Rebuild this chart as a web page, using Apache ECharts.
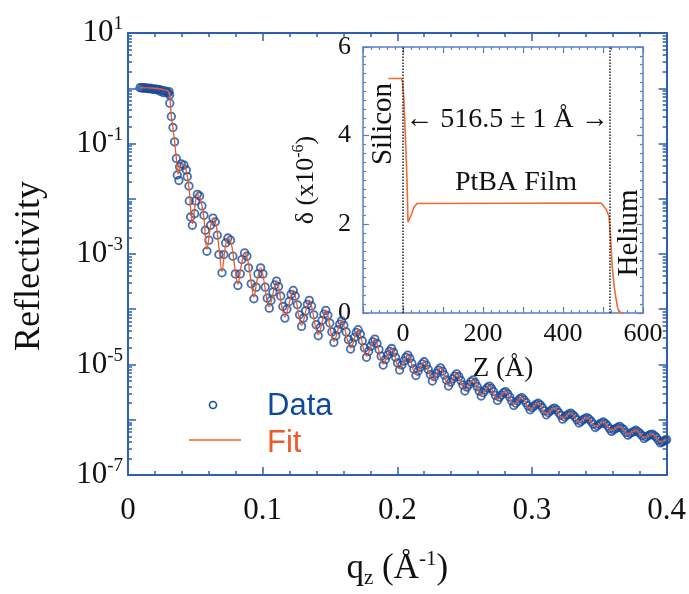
<!DOCTYPE html>
<html>
<head>
<meta charset="utf-8">
<title>Reflectivity</title>
<script src="https://cdn.jsdelivr.net/npm/echarts@6/dist/echarts.min.js"></script>
<style>
	html, body { margin: 0; padding: 0; background: #fff; }
	#main { width: 689px; height: 594px; }
</style>
</head>
<body>
<div id="main"></div>
<script>
// measured reflectivity, [qz (1/A), log10 R]
var dataLog = [
	[0.0089,0.01],[0.0100,0.01],[0.0111,0.0],[0.0122,0.01],[0.0133,0.0],[0.0144,0.0],[0.0155,-0.01],
	[0.0166,0.0],[0.0177,-0.01],[0.0188,-0.02],[0.0199,-0.01],[0.0210,-0.02],[0.0221,-0.03],[0.0232,-0.02],
	[0.0243,-0.06],[0.0254,-0.04],[0.0265,-0.08],[0.0276,-0.05],[0.0287,-0.07],[0.0298,-0.09],[0.0305,-0.06],
	[0.0309,-0.12],[0.0310,-0.27],[0.0322,-0.51],[0.0334,-0.71],[0.0346,-0.97],[0.0359,-1.27],
	[0.0366,-1.57],[0.0378,-1.67],[0.0383,-1.42],[0.0396,-1.37],[0.0416,-1.39],[0.0433,-1.48],[0.0440,-1.60],
	[0.0453,-1.77],[0.0455,-2.04],[0.0465,-2.33],[0.0478,-2.48],[0.0495,-2.27],[0.0502,-2.04],[0.0515,-1.92],
	[0.0532,-1.95],[0.0549,-2.13],[0.0564,-2.30],[0.0574,-2.57],[0.0586,-2.95],[0.0601,-2.75],[0.0613,-2.48],
	[0.0631,-2.35],[0.0648,-2.42],[0.0663,-2.66],[0.0675,-3.01],[0.0698,-3.34],[0.0712,-3.01],[0.0725,-2.80],
	[0.0742,-2.71],[0.0762,-2.75],[0.0779,-3.04],[0.0797,-3.36],[0.0816,-3.57],[0.0834,-3.36],[0.0846,-3.10],
	[0.0866,-2.98],[0.0883,-3.04],[0.0895,-3.25],[0.0915,-3.54],[0.0935,-3.81],[0.0952,-3.60],[0.0965,-3.36],
	[0.0985,-3.25],[0.1002,-3.36],[0.1019,-3.60],[0.1034,-3.80],
	[0.1049,-3.98],[0.1062,-3.84],[0.1076,-3.69],[0.1090,-3.56],[0.1103,-3.49],[0.1118,-3.59],[0.1134,-3.76],
	[0.1150,-3.95],[0.1165,-4.16],[0.1180,-4.00],[0.1196,-3.86],[0.1211,-3.73],[0.1227,-3.66],[0.1242,-3.76],
	[0.1258,-3.92],[0.1274,-4.10],[0.1289,-4.31],[0.1303,-4.16],[0.1318,-4.03],[0.1332,-3.91],[0.1346,-3.84],
	[0.1363,-3.94],[0.1380,-4.10],[0.1397,-4.28],[0.1413,-4.48],[0.1427,-4.33],[0.1441,-4.20],[0.1455,-4.09],
	[0.1469,-4.02],[0.1484,-4.11],[0.1499,-4.25],[0.1514,-4.41],[0.1529,-4.60],[0.1543,-4.48],[0.1558,-4.37],
	[0.1572,-4.27],[0.1586,-4.21],[0.1603,-4.29],[0.1620,-4.41],[0.1637,-4.55],[0.1653,-4.72],[0.1667,-4.61],
	[0.1681,-4.51],[0.1695,-4.42],[0.1709,-4.37],[0.1725,-4.45],[0.1740,-4.57],[0.1756,-4.70],[0.1771,-4.87],
	[0.1787,-4.76],[0.1802,-4.67],[0.1818,-4.59],[0.1833,-4.54],[0.1849,-4.62],[0.1864,-4.73],[0.1880,-4.85],
	[0.1895,-5.01],[0.1911,-4.91],[0.1926,-4.83],[0.1942,-4.76],[0.1957,-4.71],[0.1972,-4.78],[0.1987,-4.87],
	[0.2002,-4.97],[0.2017,-5.10],[0.2033,-5.01],[0.2048,-4.94],[0.2063,-4.87],[0.2078,-4.83],[0.2093,-4.89],
	[0.2108,-4.98],[0.2123,-5.08],[0.2138,-5.20],[0.2154,-5.12],[0.2169,-5.05],[0.2184,-4.99],[0.2199,-4.95],
	[0.2215,-5.01],[0.2230,-5.09],[0.2245,-5.18],[0.2260,-5.30],[0.2275,-5.22],[0.2290,-5.16],[0.2305,-5.10],
	[0.2320,-5.06],[0.2335,-5.12],[0.2350,-5.19],[0.2365,-5.28],[0.2380,-5.39],[0.2396,-5.32],[0.2411,-5.26],
	[0.2426,-5.21],[0.2441,-5.17],[0.2457,-5.22],[0.2472,-5.29],[0.2487,-5.37],[0.2502,-5.48],[0.2517,-5.41],
	[0.2532,-5.36],[0.2547,-5.31],[0.2562,-5.28],[0.2578,-5.33],[0.2593,-5.40],[0.2608,-5.48],[0.2623,-5.57],
	[0.2638,-5.51],[0.2653,-5.46],[0.2668,-5.42],[0.2683,-5.39],[0.2699,-5.43],[0.2714,-5.49],[0.2729,-5.56],
	[0.2744,-5.65],[0.2759,-5.59],[0.2774,-5.55],[0.2789,-5.51],[0.2804,-5.49],[0.2820,-5.53],[0.2835,-5.59],
	[0.2850,-5.66],[0.2865,-5.74],[0.2880,-5.70],[0.2895,-5.66],[0.2910,-5.62],[0.2925,-5.60],[0.2941,-5.64],
	[0.2956,-5.69],[0.2971,-5.75],[0.2986,-5.82],[0.3001,-5.78],[0.3016,-5.75],[0.3031,-5.72],[0.3046,-5.70],
	[0.3062,-5.73],[0.3077,-5.78],[0.3092,-5.84],[0.3107,-5.91],[0.3122,-5.87],[0.3137,-5.84],[0.3152,-5.81],
	[0.3167,-5.79],[0.3183,-5.82],[0.3198,-5.87],[0.3213,-5.92],[0.3228,-5.99],[0.3243,-5.95],[0.3258,-5.92],
	[0.3273,-5.90],[0.3288,-5.88],[0.3304,-5.91],[0.3319,-5.95],[0.3334,-6.00],[0.3349,-6.06],[0.3364,-6.03],
	[0.3379,-6.00],[0.3394,-5.98],[0.3409,-5.96],[0.3425,-5.99],[0.3440,-6.03],[0.3455,-6.08],[0.3470,-6.14],
	[0.3485,-6.11],[0.3500,-6.08],[0.3515,-6.06],[0.3530,-6.04],[0.3546,-6.07],[0.3561,-6.11],[0.3576,-6.16],
	[0.3591,-6.21],[0.3606,-6.18],[0.3621,-6.16],[0.3636,-6.14],[0.3651,-6.12],[0.3667,-6.15],[0.3682,-6.18],
	[0.3697,-6.23],[0.3712,-6.28],[0.3727,-6.25],[0.3742,-6.23],[0.3757,-6.21],[0.3772,-6.19],[0.3788,-6.22],
	[0.3803,-6.25],[0.3818,-6.29],[0.3833,-6.34],[0.3848,-6.31],[0.3863,-6.29],[0.3878,-6.27],[0.3893,-6.26],
	[0.3909,-6.29],[0.3924,-6.32],[0.3939,-6.37],[0.3954,-6.42],[0.3966,-6.40],[0.3977,-6.39],[0.3989,-6.37],
	[0.4000,-6.36]
];

// model fit, [qz, log10 R]
var fitLog = [
	[0.0089,0.01],[0.0200,0.0],[0.0290,-0.04],[0.0305,-0.08],[0.0312,-0.2],[0.0322,-0.51],[0.0334,-0.72],
	[0.0346,-0.97],[0.0359,-1.27],[0.0372,-1.55],[0.0385,-1.42],[0.0408,-1.37],[0.0433,-1.50],[0.0455,-1.85],
	[0.0478,-2.45],[0.0498,-2.12],[0.0515,-1.92],[0.0540,-2.02],[0.0565,-2.38],[0.0586,-2.92],[0.0608,-2.58],
	[0.0631,-2.35],[0.0655,-2.48],[0.0678,-2.95],[0.0698,-3.32],[0.0720,-2.92],[0.0742,-2.71],[0.0768,-2.82],
	[0.0795,-3.28],[0.0816,-3.55],[0.0840,-3.22],[0.0866,-2.98],[0.0890,-3.12],[0.0915,-3.52],[0.0935,-3.78],
	[0.0958,-3.48],[0.0985,-3.25],[0.1049,-3.96],[0.1103,-3.49],[0.1165,-4.14],[0.1227,-3.66],[0.1289,-4.29],
	[0.1346,-3.84],[0.1413,-4.46],[0.1469,-4.02],[0.1529,-4.58],[0.1586,-4.21],[0.1653,-4.70],[0.1709,-4.37],
	[0.1771,-4.85],[0.1833,-4.54],[0.1895,-4.99],[0.1957,-4.71],[0.2017,-5.08],[0.2078,-4.83],[0.2138,-5.18],
	[0.2199,-4.95],[0.2260,-5.28],[0.2320,-5.06],[0.2380,-5.37],[0.2441,-5.17],[0.2502,-5.46],[0.2562,-5.28],
	[0.2623,-5.55],[0.2683,-5.39],[0.2744,-5.63],[0.2804,-5.49],[0.2865,-5.72],[0.2925,-5.60],[0.2986,-5.80],
	[0.3046,-5.70],[0.3107,-5.89],[0.3167,-5.79],[0.3228,-5.97],[0.3288,-5.88],[0.3349,-6.04],[0.3409,-5.96],
	[0.3470,-6.12],[0.3530,-6.04],[0.3591,-6.19],[0.3651,-6.12],[0.3712,-6.26],[0.3772,-6.19],[0.3833,-6.32],
	[0.3893,-6.26],[0.3954,-6.40],[0.4000,-6.36]
];

// inset: delta profile, [z (A), delta x1e-6]
var profile = [
	[-37,5.29],[-4,5.29],[-1,5.2],[1.5,4.92],[4,4.4],[7,3.75],[10,3.0],[12.5,2.05],[15,2.05],[20,2.2],
	[27,2.38],[35,2.47],[40,2.48],[495,2.48],[500,2.44],[508,2.34],[515,2.18],[518.3,1.8],[523,1.05],
	[529,0.52],[535.8,0.15],[540,0.02],[545,0],[552,0]
];
var interfaces = [0, 516.5];

var yLabelExp = [1, -1, -3, -5, -7];
var insetXLabels = [0, 200, 400, 600];

var AX = '#2f5fae';
var INSET_AX = '#5a7ec2';
var BLUE = '#174a9c';
var ORANGE = '#f05a28';
var serif = 'Liberation Serif';

var majorY = [], minorY = [];
for (var e = -7; e <= 1; e++) majorY.push(Math.pow(10, e));
for (var e = -7; e < 1; e++) {
	for (var m = 2; m <= 9; m++) minorY.push(m * Math.pow(10, e));
}

function toR(p) { return [p[0], Math.pow(10, p[1])]; }

function logAxis(pos, ticks, len, withLabels, showLine) {
	var ax = {
		type: 'log', logBase: 10, min: 1e-7, max: 10, gridIndex: 0, position: pos,
		axisLine: { show: showLine, onZero: false, lineStyle: { color: AX, width: 2 } },
		axisTick: { inside: true, length: len, customValues: ticks, lineStyle: { color: AX, width: 1.5 } },
		axisLabel: { show: false },
		splitLine: { show: false }
	};
	if (withLabels) {
		ax.axisLabel = {
			customValues: yLabelExp.map(function (v) { return Math.pow(10, v); }),
			margin: 5,
			formatter: function (v) {
				return '{b|10}{s|' + Math.round(Math.log10(v)) + '}';
			},
			rich: {
				b: { fontFamily: serif, fontSize: 31, color: '#111', lineHeight: 36 },
				s: { fontFamily: serif, fontSize: 19, color: '#111', verticalAlign: 'top', lineHeight: 20 }
			}
		};
	}
	return ax;
}

function qAxis(pos, withLabels) {
	var ax = {
		type: 'value', gridIndex: 0, min: 0, max: 0.4, interval: 0.1, position: pos,
		axisLine: { onZero: false, lineStyle: { color: AX, width: 2 } },
		axisTick: { inside: true, length: 8, lineStyle: { color: AX, width: 1.5 } },
		minorTick: { show: true, splitNumber: 5, length: 4, lineStyle: { color: AX, width: 1.5 } },
		splitLine: { show: false },
		minorSplitLine: { show: false },
		axisLabel: { show: false }
	};
	if (withLabels) {
		ax.axisLabel = {
			color: '#111', fontFamily: serif, fontSize: 31, margin: 20,
			formatter: function (v) { return String(Math.round(v * 10) / 10); }
		};
		ax.name = '{q|q}{z|z}{q| (Å}{s|-1}{q|)}';
		ax.nameLocation = 'middle';
		ax.nameGap = 74;
		ax.nameTextStyle = {
			rich: {
				q: { fontFamily: serif, fontSize: 35, color: '#111', lineHeight: 40 },
				z: { fontFamily: serif, fontSize: 21, color: '#111', verticalAlign: 'bottom', lineHeight: 22 },
				s: { fontFamily: serif, fontSize: 21, color: '#111', verticalAlign: 'top', lineHeight: 22 }
			}
		};
	}
	return ax;
}

function zAxis(pos, withLabels) {
	var ax = {
		type: 'value', gridIndex: 1, min: -100, max: 600, interval: 100, position: pos,
		axisLine: { onZero: false, lineStyle: { color: INSET_AX, width: 1.5 } },
		axisTick: { inside: true, length: 6, lineStyle: { color: INSET_AX, width: 1.2 } },
		minorTick: { show: true, splitNumber: 5, length: 3, lineStyle: { color: INSET_AX, width: 1.2 } },
		splitLine: { show: false },
		minorSplitLine: { show: false },
		axisLabel: { show: false }
	};
	if (withLabels) {
		ax.axisLabel = {
			color: '#111', fontFamily: serif, fontSize: 26, margin: 8,
			formatter: function (v) { return insetXLabels.indexOf(v) >= 0 ? String(v) : ''; }
		};
		ax.name = 'Z (Å)';
		ax.nameLocation = 'middle';
		ax.nameGap = 42;
		ax.nameTextStyle = { fontFamily: serif, fontSize: 27, color: '#111' };
	}
	return ax;
}

function dAxis(pos, withLabels) {
	var ax = {
		type: 'value', gridIndex: 1, min: 0, max: 6, interval: 2, position: pos,
		axisLine: { onZero: false, lineStyle: { color: INSET_AX, width: 1.5 } },
		axisTick: { inside: true, length: 6, lineStyle: { color: INSET_AX, width: 1.2 } },
		minorTick: { show: true, splitNumber: 10, length: 3, lineStyle: { color: INSET_AX, width: 1.2 } },
		splitLine: { show: false },
		minorSplitLine: { show: false },
		axisLabel: { show: false }
	};
	if (withLabels) {
		ax.axisLabel = { color: '#111', fontFamily: serif, fontSize: 26, margin: 12 };
		ax.name = '{d|δ (x10}{s|-6}{d|)}';
		ax.nameLocation = 'middle';
		ax.nameRotate = 90;
		ax.nameGap = 42;
		ax.nameTextStyle = {
			rich: {
				d: { fontFamily: serif, fontSize: 26, color: '#111', lineHeight: 30 },
				s: { fontFamily: serif, fontSize: 16, color: '#111', verticalAlign: 'top', lineHeight: 16 }
			}
		};
	}
	return ax;
}

var myChart = echarts.init(document.getElementById('main'));

var option = {
	backgroundColor: '#fff',
	animation: false,
	grid: [
		{ left: 128, right: 22, top: 33, bottom: 108 },
		{ left: 363, top: 47, width: 280, height: 266, show: true, backgroundColor: '#fff', borderWidth: 0 }
	],
	xAxis: [qAxis('bottom', true), qAxis('top', false), zAxis('bottom', true), zAxis('top', false)],
	yAxis: [
		logAxis('left', majorY, 8, true, true),
		logAxis('left', minorY, 4, false, false),
		logAxis('right', majorY, 8, false, true),
		logAxis('right', minorY, 4, false, false),
		dAxis('left', true),
		dAxis('right', false)
	],
	series: [
		{
			name: 'Data', type: 'scatter', xAxisIndex: 0, yAxisIndex: 0,
			symbol: 'circle', symbolSize: 7.5,
			itemStyle: { color: 'rgba(255,255,255,0)', borderColor: BLUE, borderWidth: 1.8 },
			data: dataLog.map(toR), z: 2
		},
		{
			name: 'Fit', type: 'line', xAxisIndex: 0, yAxisIndex: 0,
			showSymbol: false, smooth: 0.35,
			lineStyle: { color: ORANGE, width: 1.3 },
			data: fitLog.map(toR), z: 3
		},
		{
			name: 'Profile', type: 'line', xAxisIndex: 2, yAxisIndex: 4,
			showSymbol: false,
			lineStyle: { color: '#f26b35', width: 1.6 },
			data: profile,
			markLine: {
				silent: true, symbol: ['none', 'none'],
				label: { show: false },
				lineStyle: { type: 'dotted', color: '#222', width: 1.5 },
				data: interfaces.map(function (v) { return { xAxis: v }; })
			}
		}
	],
	graphic: [
		{ type: 'text', x: 30, y: 266, rotation: Math.PI / 2, style: { text: 'Reflectivity', fill: '#111', font: '36px "Liberation Serif"', align: 'center', verticalAlign: 'middle' } },
		{ type: 'circle', shape: { cx: 213, cy: 405, r: 3.5 }, style: { fill: 'none', stroke: BLUE, lineWidth: 1.6 } },
		{ type: 'line', shape: { x1: 189, y1: 440, x2: 241, y2: 440 }, style: { stroke: ORANGE, lineWidth: 1.5 } },
		{ type: 'text', x: 267, y: 406, style: { text: 'Data', fill: '#0d4a9f', font: '31px "Liberation Sans"', verticalAlign: 'middle' } },
		{ type: 'text', x: 267, y: 443, style: { text: 'Fit', fill: '#ee5a2a', font: '31px "Liberation Sans"', verticalAlign: 'middle' } },
		{ type: 'text', x: 383, y: 124, rotation: Math.PI / 2, style: { text: 'Silicon', fill: '#111', font: '29px "Liberation Serif"', align: 'center', verticalAlign: 'middle' } },
		{ type: 'text', x: 629, y: 233, rotation: Math.PI / 2, style: { text: 'Helium', fill: '#111', font: '29px "Liberation Serif"', align: 'center', verticalAlign: 'middle' } },
		{ type: 'text', x: 516, y: 183, style: { text: 'PtBA Film', fill: '#111', font: '28px "Liberation Serif"', align: 'center', verticalAlign: 'middle' } },
		{ type: 'text', x: 507, y: 120, style: { text: '\u2190 516.5 \u00b1 1 \u00c5 \u2192', fill: '#111', font: '28px "Liberation Serif"', align: 'center', verticalAlign: 'middle' } }
	]
};

myChart.setOption(option);
</script>
</body>
</html>
